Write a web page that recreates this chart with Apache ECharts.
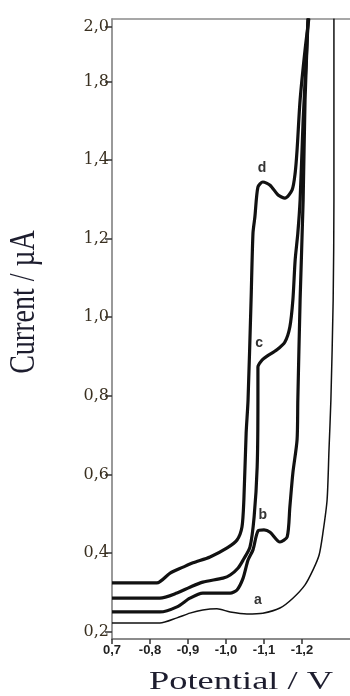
<!DOCTYPE html>
<html><head><meta charset="utf-8">
<script src="https://cdn.jsdelivr.net/npm/echarts@6/dist/echarts.min.js"></script>
<style>html,body{margin:0;padding:0;background:#fff}#c{width:350px;height:696px}</style>
</head><body><div id="c"></div>
<script>
// Potential (V) and current (µA)
const potentialA = [-0.700,-0.826,-0.871,-0.905,-0.939,-0.976,-1.011,-1.055,-1.097,-1.142,-1.176,-1.208,-1.229,-1.245,-1.255,-1.266,-1.271,-1.276,-1.282,-1.284,-1.284,-1.284];
const currentA   = [0.222,0.222,0.235,0.247,0.255,0.258,0.250,0.245,0.247,0.260,0.285,0.319,0.357,0.395,0.451,0.535,0.662,0.789,1.044,1.298,1.553,1.76];

const potentialB = [-0.700,-0.826,-0.871,-0.905,-0.939,-1.011,-1.029,-1.045,-1.058,-1.071,-1.084,-1.100,-1.116,-1.142,-1.161,-1.168,-1.176,-1.187,-1.189,-1.195,-1.203,-1.208,-1.216];
const currentB   = [0.250,0.250,0.263,0.285,0.298,0.298,0.306,0.336,0.382,0.408,0.456,0.459,0.453,0.428,0.441,0.517,0.604,0.688,0.789,1.044,1.298,1.553,1.76];

const potentialC = [-0.700,-0.826,-0.871,-0.905,-0.939,-0.992,-1.011,-1.032,-1.045,-1.063,-1.074,-1.082,-1.084,-1.084,-1.095,-1.108,-1.134,-1.155,-1.168,-1.176,-1.182,-1.189,-1.195,-1.203,-1.211,-1.216];
const currentC   = [0.285,0.285,0.298,0.313,0.326,0.336,0.344,0.362,0.382,0.415,0.492,0.619,0.789,0.873,0.891,0.901,0.917,0.937,0.975,1.044,1.146,1.214,1.298,1.502,1.654,1.76];

const potentialD = [-0.700,-0.818,-0.853,-0.887,-0.913,-0.958,-1.003,-1.029,-1.042,-1.047,-1.053,-1.058,-1.066,-1.071,-1.076,-1.084,-1.097,-1.116,-1.137,-1.155,-1.174,-1.182,-1.187,-1.195,-1.208,-1.218];
const currentD   = [0.324,0.324,0.349,0.364,0.375,0.390,0.413,0.433,0.466,0.535,0.705,0.789,1.044,1.214,1.255,1.331,1.344,1.336,1.311,1.303,1.324,1.367,1.425,1.553,1.680,1.76];

const curveNames = ['a','b','c','d'];
const labelPotential = [-1.084,-1.097,-1.087,-1.095];
const labelCurrent   = [0.280,0.497,0.934,1.380];

const xTickValues = [-0.7,-0.8,-0.9,-1.0,-1.1,-1.2];
const xTickLabels = ['0,7','-0,8','-0,9','-1,0','-1,1','-1,2'];
const yTickValues = [0.2,0.4,0.6,0.8,1.0,1.2,1.4,1.6,1.74];
const yTickLabels = ['0,2','0,4','0,6','0,8','1,0','1,2','1,4','1,8','2,0'];

function zip(xs, ys){ return xs.map((x,i)=>[x, ys[i]]); }
function pick(vals, labels, v){
  for (let i=0;i<vals.length;i++){ if (Math.abs(vals[i]-v) < 1e-6) return labels[i]; }
  return '';
}

const chart = echarts.init(document.getElementById('c'), null, {renderer:'canvas'});
const sets = [[potentialA,currentA,1.5],[potentialB,currentB,3.2],[potentialC,currentC,3.2],[potentialD,currentD,3.2]];
const series = sets.map((s,i)=>({
  type:'line', name:curveNames[i], data:zip(s[0],s[1]), showSymbol:false, smooth:0.25,
  lineStyle:{color:'#111', width:s[2]}, z: 3,
  markPoint:{
    symbol:'circle', symbolSize:1, itemStyle:{color:'rgba(0,0,0,0)'},
    label:{show:true, position:'inside', formatter:curveNames[i], color:'#333', fontSize:14, fontWeight:'bold', fontFamily:'Liberation Sans'},
    data:[{coord:[labelPotential[i], labelCurrent[i]]}]
  }
}));

chart.setOption({
  animation:false,
  backgroundColor:'#fff',
  grid:{left:112, top:19, right:0, bottom:57, show:false, outerBoundsMode:'none'},
  xAxis:[{
    type:'value', inverse:true, min:-1.3263, max:-0.7,
    axisLine:{show:true, onZero:false, lineStyle:{color:'#666', width:1.5}},
    axisTick:{show:true, customValues:xTickValues, length:5, lineStyle:{color:'#333', width:1.5}},
    axisLabel:{show:true, customValues:xTickValues, formatter:v=>pick(xTickValues,xTickLabels,v),
      color:'#222', fontSize:13, fontWeight:'bold', fontFamily:'Liberation Sans', margin:5},
    splitLine:{show:false}
  },{
    type:'value', position:'top', inverse:true, min:-1.3263, max:-0.7,
    axisLine:{show:true, onZero:false, lineStyle:{color:'#8a8a8a', width:1.5}},
    axisTick:{show:false}, axisLabel:{show:false}, splitLine:{show:false}
  }],
  yAxis:{
    type:'value', min:0.1812, max:1.7588,
    axisLine:{show:true, onZero:false, lineStyle:{color:'#777', width:1.5}},
    axisTick:{show:true, customValues:yTickValues, length:7, lineStyle:{color:'#333', width:1.5}},
    axisLabel:{show:true, customValues:yTickValues, formatter:v=>pick(yTickValues,yTickLabels,v),
      color:'#3a3020', fontSize:16, fontFamily:'DejaVu Serif', margin:3},
    splitLine:{show:false}
  },
  graphic:[
    {type:'text', x:241, y:682, scaleX:1.4, style:{text:'Potential / V', font:'26px "Liberation Serif"', fill:'#1d1d2e', align:'center', verticalAlign:'middle'}},
    {type:'text', x:24, y:302, rotation:Math.PI/2, scaleY:1.3, style:{text:'Current / µA', font:'28px "Liberation Serif"', fill:'#1d1d2e', align:'center', verticalAlign:'middle'}}
  ],
  series: series
});
</script></body></html>
